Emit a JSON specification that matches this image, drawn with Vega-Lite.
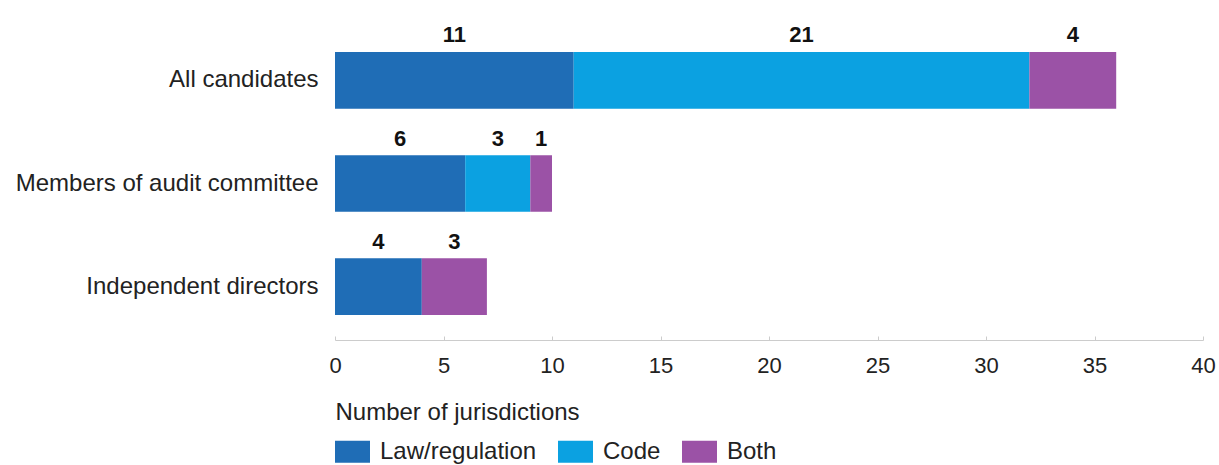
{
  "$schema": "https://vega.github.io/schema/vega-lite/v6.json",
  "autosize": {"type": "none"},
  "padding": {"left": 335, "top": 27, "right": 16, "bottom": 125},
  "width": 868,
  "height": 313,
  "background": "white",
  "config": {
    "font": "Liberation Sans",
    "view": {"stroke": null}
  },
  "data": {
    "values": [
      {"group": "All candidates", "source": "Law/regulation", "k": 1, "count": 11},
      {"group": "All candidates", "source": "Code", "k": 2, "count": 21},
      {"group": "All candidates", "source": "Both", "k": 3, "count": 4},
      {"group": "Members of audit committee", "source": "Law/regulation", "k": 1, "count": 6},
      {"group": "Members of audit committee", "source": "Code", "k": 2, "count": 3},
      {"group": "Members of audit committee", "source": "Both", "k": 3, "count": 1},
      {"group": "Independent directors", "source": "Law/regulation", "k": 1, "count": 4},
      {"group": "Independent directors", "source": "Both", "k": 3, "count": 3}
    ]
  },
  "encoding": {
    "y": {
      "field": "group",
      "type": "nominal",
      "sort": ["All candidates", "Members of audit committee", "Independent directors"],
      "scale": {"paddingInner": 0.45, "paddingOuter": 0.243},
      "axis": {
        "title": null,
        "domain": false,
        "ticks": false,
        "labelFontSize": 24,
        "labelColor": "#222222",
        "labelPadding": 17,
        "labelLimit": 400
      }
    }
  },
  "layer": [
    {
      "mark": {"type": "bar"},
      "encoding": {
        "x": {
          "field": "count",
          "type": "quantitative",
          "stack": "zero",
          "scale": {"domain": [0, 40], "nice": false},
          "axis": {
            "title": "Number of jurisdictions",
            "titleFontSize": 24,
            "titleFontWeight": "normal",
            "titleColor": "#222222",
            "titleAnchor": "start",
            "titleAlign": "left",
            "titlePadding": 24,
            "labelFontSize": 22,
            "labelColor": "#222222",
            "labelPadding": 19,
            "labelFlush": false,
            "values": [0, 5, 10, 15, 20, 25, 30, 35, 40],
            "grid": false,
            "domainColor": "#cccccc",
            "tickColor": "#cccccc",
            "tickSize": -4
          }
        },
        "order": {"field": "k", "type": "quantitative"},
        "color": {
          "field": "source",
          "type": "nominal",
          "scale": {
            "domain": ["Law/regulation", "Code", "Both"],
            "range": ["#1f6db6", "#0ba1e1", "#9b52a6"]
          },
          "legend": {
            "title": null,
            "orient": "none",
            "direction": "horizontal",
            "legendX": 0,
            "legendY": 407,
            "symbolType": "M-1,-0.63L1,-0.63L1,0.63L-1,0.63Z",
            "symbolSize": 1225,
            "symbolStrokeWidth": 0,
            "symbolOpacity": 1,
            "labelFontSize": 24,
            "labelColor": "#222222",
            "labelOffset": 10,
            "columnPadding": 21
          }
        }
      }
    },
    {
      "mark": {"type": "text", "fontSize": 22, "fontWeight": "bold", "color": "#111111", "dy": -45, "baseline": "middle"},
      "encoding": {
        "x": {"field": "count", "type": "quantitative", "stack": "zero", "bandPosition": 0.5},
        "order": {"field": "k", "type": "quantitative"},
        "text": {"field": "count", "type": "quantitative"}
      }
    }
  ]
}
